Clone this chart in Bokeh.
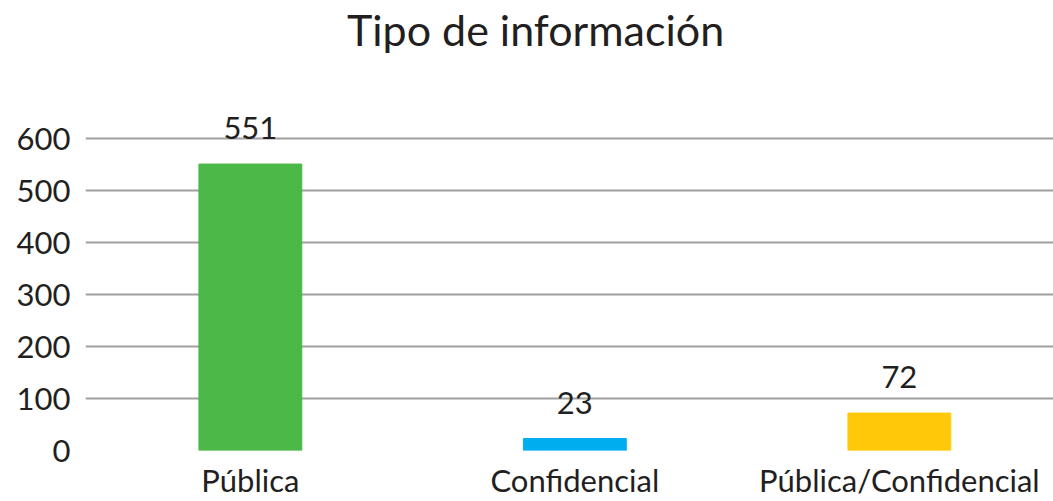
from bokeh.plotting import figure
from bokeh.models import Range1d, ColumnDataSource, FixedTicker, Label
from bokeh.core.properties import value
from bokeh.embed import file_html
from bokeh.resources import INLINE

categories = ["Pública", "Confidencial", "Pública/Confidencial"]
counts = [551, 23, 72]
colors = ["#4cb848", "#00aeef", "#ffc90a"]
y_ticks = [0, 100, 200, 300, 400, 500, 600]
title_text = "Tipo de información"

FONT = "Lato"
TXT = "#231f20"

idx = list(range(len(categories)))
src = ColumnDataSource(dict(x=idx, top=counts, color=colors,
                            label=[str(c) for c in counts]))

p = figure(width=1053, height=501, output_backend="svg", toolbar_location=None,
           x_range=Range1d(-0.508, 2.475), y_range=Range1d(0, 856),
           min_border_left=85, min_border_right=0, min_border_top=5,
           min_border_bottom=50)

# title drawn inside the (invisible) upper part of the frame
p.add_layout(Label(x=0.879, y=810, text=title_text, text_align="center",
                   text_baseline="alphabetic", text_font=FONT,
                   text_font_size="43px", text_color=TXT))

p.vbar(x="x", top="top", width=0.317, color="color", source=src)
p.text(x="x", y="top", text="label", source=src, text_align="center",
       text_baseline="alphabetic", y_offset=-36, text_font=value(FONT),
       text_font_size="31px", text_color=TXT)

p.outline_line_color = None
p.background_fill_color = "white"
p.border_fill_color = "white"

p.xgrid.grid_line_color = None
p.ygrid.grid_line_color = "#a0a0a0"
p.ygrid.grid_line_width = 2
p.yaxis.ticker = FixedTicker(ticks=y_ticks)
p.xaxis.ticker = FixedTicker(ticks=idx)
p.xaxis.major_label_overrides = {i: c for i, c in zip(idx, categories)}

for ax in (p.xaxis[0], p.yaxis[0]):
    ax.axis_line_color = None
    ax.major_tick_line_color = None
    ax.minor_tick_line_color = None
    ax.major_label_text_font = FONT
    ax.major_label_text_font_size = "31px"
    ax.major_label_text_color = TXT
p.yaxis.major_label_standoff = 9
p.xaxis.major_label_standoff = 4

open("out.html", "w").write(file_html(p, INLINE))
